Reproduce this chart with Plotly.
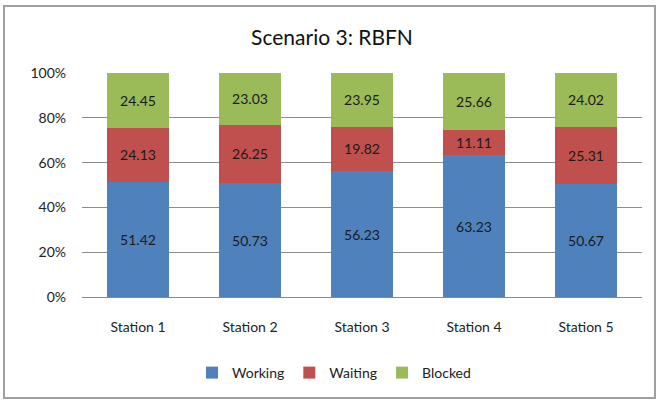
import plotly.graph_objects as go

stations = ["Station 1", "Station 2", "Station 3", "Station 4", "Station 5"]
working = [51.42, 50.73, 56.23, 63.23, 50.67]
waiting = [24.13, 26.25, 19.82, 11.11, 25.31]
blocked = [24.45, 23.03, 23.95, 25.66, 24.02]
y_ticks = [0, 20, 40, 60, 80, 100]

series = [("Working", working, "#4F81BD"),
          ("Waiting", waiting, "#C0504D"),
          ("Blocked", blocked, "#9BBB59")]

fig = go.Figure()
for name, vals, color in series:
    fig.add_trace(go.Bar(
        x=stations, y=vals, name=name,
        marker=dict(color=color, line=dict(width=0)),
        text=[f"{v:.2f}" for v in vals],
        textposition="inside", insidetextanchor="middle",
        textfont=dict(family="Lato, sans-serif", size=14, color="#1a1a1a"),
        textangle=0,
        hoverinfo="skip",
    ))

W, H = 657, 401
l, r, t, b = 82, 15, 73, 104
pw, ph = W - l - r, H - t - b

def px(x):
    return (x - l) / pw

def py(y):
    return (H - b - y) / ph

fig.update_layout(
    width=W, height=H,
    barmode="stack", barnorm="percent", bargap=0.44,
    margin=dict(l=l, r=r, t=t, b=b, pad=0),
    paper_bgcolor="white", plot_bgcolor="white",
    font=dict(family="Lato, sans-serif", size=14, color="#222"),
    title=dict(text="Scenario 3: RBFN", x=332 / W, xanchor="center",
               xref="container", y=1 - 38 / H, yanchor="middle", yref="container",
               font=dict(size=21, color="#111")),
    showlegend=True,
    legend=dict(orientation="h", x=px(334), xanchor="center", y=py(373), yanchor="middle",
                font=dict(size=14), traceorder="normal", itemwidth=30,
                bgcolor="rgba(0,0,0,0)"),
    uniformtext=dict(mode="show", minsize=10),
    shapes=[dict(type="rect", xref="paper", yref="paper",
                 x0=px(4), x1=px(655), y0=py(398), y1=py(6),
                 line=dict(color="#a0a0a0", width=2), layer="below")],
)
fig.update_xaxes(showgrid=False, showline=True, linecolor="#888", linewidth=1,
                 ticks="", ticklabelstandoff=17, tickfont=dict(size=14))
fig.update_yaxes(range=[0, 100], tickvals=y_ticks, ticktext=[f"{v}%" for v in y_ticks],
                 showgrid=True, gridcolor="#8c8c8c", gridwidth=1, zeroline=False,
                 showline=False, ticks="", ticklabelstandoff=15, tickfont=dict(size=14))

fig.write_html("out.html", config={"displayModeBar": False},
               post_script="document.body.style.margin='0';")
